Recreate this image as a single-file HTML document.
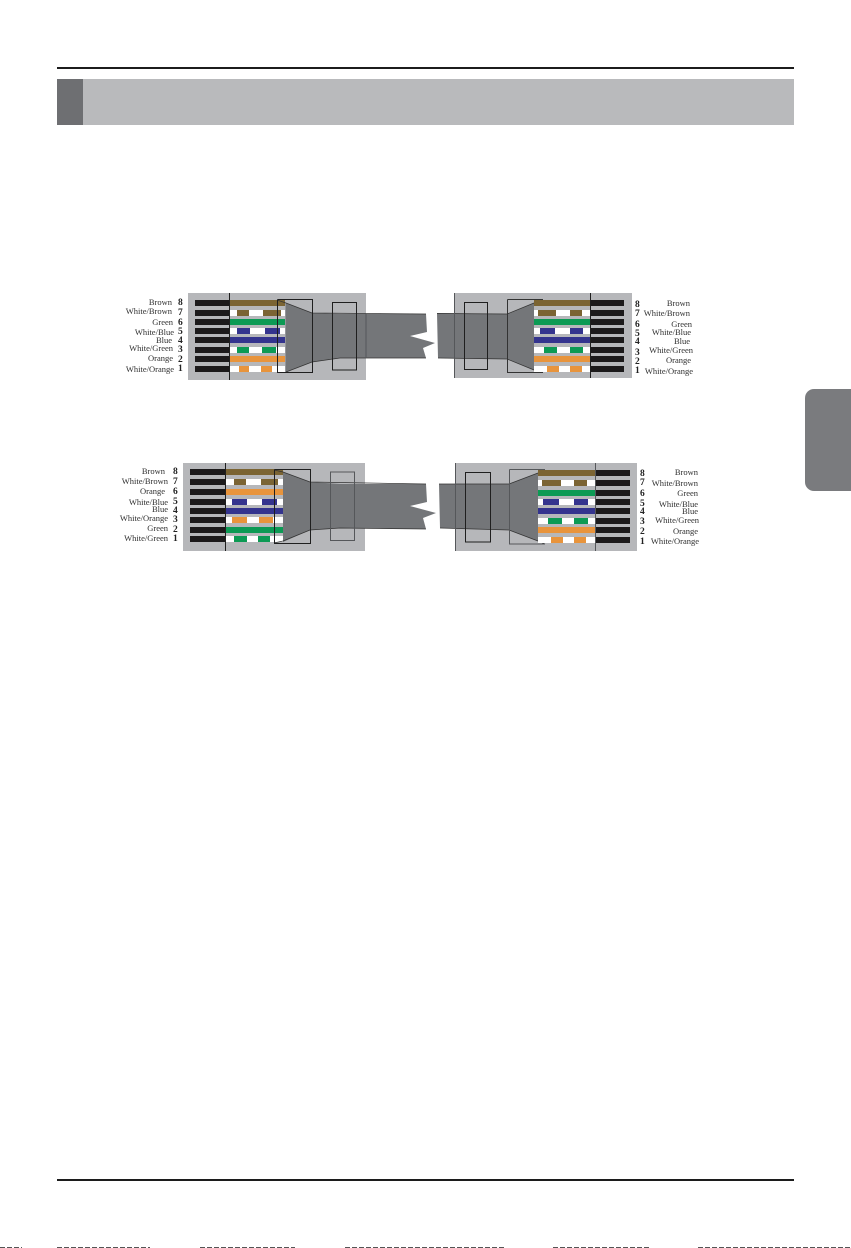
<!DOCTYPE html>
<html>
<head>
<meta charset="utf-8">
<style>
html,body{margin:0;padding:0;background:#fff;}
svg{display:block;}
text{font-family:"Liberation Serif",serif;font-size:8.5px;fill:#2e2e2e;text-anchor:end;dominant-baseline:central;}
.n{font-size:9.5px;font-weight:bold;text-anchor:start;fill:#222;}
.pin{fill:#1c1a1b;}
.w{fill:#fff;}.br{fill:#7b6433;}.gr{fill:#0c9a54;}.bl{fill:#34348e;}.or{fill:#e8943c;}
.conn{fill:#b6b7ba;}
.cable{fill:#747679;}
.ln{fill:none;stroke:#1f1f1f;stroke-width:1;}
.lg{fill:none;stroke:#55575a;stroke-width:1;}
</style>
</head>
<body>
<svg width="851" height="1248" viewBox="0 0 851 1248" xmlns="http://www.w3.org/2000/svg">
<rect width="851" height="1248" fill="#fff"/>
<!-- header -->
<rect x="57" y="67" width="737" height="2" fill="#1c1c1c"/>
<rect x="57" y="79" width="737" height="46" fill="#b9babc"/>
<rect x="57" y="79" width="26" height="46" fill="#6e6f72"/>
<!-- side tab -->
<path d="M851 389H814a9 9 0 0 0-9 9V482a9 9 0 0 0 9 9H851Z" fill="#7a7b7e"/>
<!-- footer -->
<rect x="57" y="1179" width="737" height="2" fill="#1c1c1c"/>
<path d="M0 1247.5H22M57 1247.5H150M200 1247.5H295M345 1247.5H505M553 1247.5H650M698 1247.5H851" stroke="#555" stroke-width="1" stroke-dasharray="5 2"/>

<!-- TOP LEFT -->
<rect class="conn" x="188" y="293" width="178" height="87"/>
<g class="pin">
<rect x="195" y="300" width="35" height="6"/><rect x="195" y="310" width="35" height="6"/><rect x="195" y="319" width="35" height="6"/><rect x="195" y="328" width="35" height="6"/><rect x="195" y="337" width="35" height="6"/><rect x="195" y="347" width="35" height="6"/><rect x="195" y="356" width="35" height="6"/><rect x="195" y="366" width="35" height="6"/>
</g>
<rect class="br" x="230" y="300" width="55" height="6"/>
<rect class="w" x="230" y="310" width="55" height="6"/><rect class="br" x="237" y="310" width="12" height="6"/><rect class="br" x="263" y="310" width="18" height="6"/>
<rect class="gr" x="230" y="319" width="55" height="6"/>
<rect class="w" x="230" y="328" width="55" height="6"/><rect class="bl" x="237" y="328" width="13" height="6"/><rect class="bl" x="265" y="328" width="15" height="6"/>
<rect class="bl" x="230" y="337" width="55" height="6"/>
<rect class="w" x="230" y="347" width="55" height="6"/><rect class="gr" x="237" y="347" width="12" height="6"/><rect class="gr" x="262" y="347" width="14" height="6"/>
<rect class="or" x="230" y="356" width="55" height="6"/>
<rect class="w" x="230" y="366" width="55" height="6"/><rect class="or" x="239" y="366" width="10" height="6"/><rect class="or" x="261" y="366" width="11" height="6"/>
<path class="cable" d="M285.5 303L312 313L340 314L426 314L427 332L410 336L435 343L423 348L426 358L340 358L312 362L285.5 372Z"/>
<path d="M277 300L286 303L312 313L426 314M426 358L340 358L312 362L286 372" fill="none" stroke="#333" stroke-width=".7"/>
<path class="ln" d="M229.5 293V380M277.5 299.5V372.5H312.5V299.5H277.5M332.5 302.5H356.5V370H332.5Z"/>
<path d="M366 314V358" stroke="#55575a" stroke-width="1"/>
<text x="172" y="302">Brown</text><text x="172" y="311">White/Brown</text><text x="173" y="322">Green</text><text x="174" y="332">White/Blue</text><text x="172" y="340">Blue</text><text x="173" y="348">White/Green</text><text x="173" y="358">Orange</text><text x="174" y="369">White/Orange</text>
<text class="n" x="178" y="303">8</text><text class="n" x="178" y="313">7</text><text class="n" x="178" y="323">6</text><text class="n" x="178" y="332">5</text><text class="n" x="178" y="341">4</text><text class="n" x="178" y="350">3</text><text class="n" x="178" y="360">2</text><text class="n" x="178" y="369">1</text>

<!-- TOP RIGHT -->
<rect class="conn" x="454" y="293" width="178" height="85"/>
<g class="pin">
<rect x="591" y="300" width="33" height="6"/><rect x="591" y="310" width="33" height="6"/><rect x="591" y="319" width="33" height="6"/><rect x="591" y="328" width="33" height="6"/><rect x="591" y="337" width="33" height="6"/><rect x="591" y="347" width="33" height="6"/><rect x="591" y="356" width="33" height="6"/><rect x="591" y="366" width="33" height="6"/>
</g>
<path class="cable" d="M437 313L507 314L534 303V370L507 359L438 358Z"/>
<path d="M437 313.5L507 314L534 303L543 300M543 372L534 370L507 359L438 358" fill="none" stroke="#333" stroke-width=".7"/>
<rect class="br" x="534" y="300" width="57" height="6"/>
<rect class="w" x="534" y="310" width="57" height="6"/><rect class="br" x="538" y="310" width="18" height="6"/><rect class="br" x="570" y="310" width="12" height="6"/>
<rect class="gr" x="534" y="319" width="57" height="6"/>
<rect class="w" x="534" y="328" width="57" height="6"/><rect class="bl" x="540" y="328" width="15" height="6"/><rect class="bl" x="570" y="328" width="13" height="6"/>
<rect class="bl" x="534" y="337" width="57" height="6"/>
<rect class="w" x="534" y="347" width="57" height="6"/><rect class="gr" x="544" y="347" width="13" height="6"/><rect class="gr" x="570" y="347" width="13" height="6"/>
<rect class="or" x="534" y="356" width="57" height="6"/>
<rect class="w" x="534" y="366" width="57" height="6"/><rect class="or" x="547" y="366" width="12" height="6"/><rect class="or" x="570" y="366" width="12" height="6"/>
<path class="ln" d="M590.5 293V378M464.5 302.5H487.5V369.5H464.5Z"/>
<path d="M507.5 299.5H543M507.5 299.5V372.5H543" fill="none" stroke="#333" stroke-width="1"/>
<path d="M454.5 293V378" stroke="#55575a" stroke-width="1"/>
<text x="690" y="303">Brown</text><text x="690" y="313">White/Brown</text><text x="692" y="324">Green</text><text x="691" y="332">White/Blue</text><text x="690" y="341">Blue</text><text x="693" y="350">White/Green</text><text x="691" y="360">Orange</text><text x="693" y="371">White/Orange</text>
<text class="n" x="635" y="305">8</text><text class="n" x="635" y="314">7</text><text class="n" x="635" y="325">6</text><text class="n" x="635" y="334">5</text><text class="n" x="635" y="342">4</text><text class="n" x="635" y="353">3</text><text class="n" x="635" y="362">2</text><text class="n" x="635" y="371">1</text>

<!-- BOTTOM LEFT -->
<rect class="conn" x="183" y="463" width="182" height="88"/>
<g class="pin">
<rect x="190" y="469" width="35" height="6"/><rect x="190" y="479" width="35" height="6"/><rect x="190" y="489" width="35" height="6"/><rect x="190" y="499" width="35" height="6"/><rect x="190" y="508" width="35" height="6"/><rect x="190" y="517" width="35" height="6"/><rect x="190" y="527" width="35" height="6"/><rect x="190" y="536" width="35" height="6"/>
</g>
<rect class="br" x="225" y="469" width="58" height="6"/>
<rect class="w" x="225" y="479" width="58" height="6"/><rect class="br" x="234" y="479" width="12" height="6"/><rect class="br" x="261" y="479" width="17" height="6"/>
<rect class="or" x="225" y="489" width="58" height="6"/>
<rect class="w" x="225" y="499" width="58" height="6"/><rect class="bl" x="232" y="499" width="15" height="6"/><rect class="bl" x="262" y="499" width="15" height="6"/>
<rect class="bl" x="225" y="508" width="58" height="6"/>
<rect class="w" x="225" y="517" width="58" height="6"/><rect class="or" x="232" y="517" width="15" height="6"/><rect class="or" x="259" y="517" width="14" height="6"/>
<rect class="gr" x="225" y="527" width="58" height="6"/>
<rect class="w" x="225" y="536" width="58" height="6"/><rect class="gr" x="234" y="536" width="13" height="6"/><rect class="gr" x="258" y="536" width="12" height="6"/>
<path class="cable" d="M283 472L310 482L340 484L426 484L427 502L410 506L436 513L423 518L426 529L340 528L310 530L283 542Z"/>
<path d="M274 470L283 472L310 482L426 484M426 529L340 528L310 530L283 541L274 543" fill="none" stroke="#333" stroke-width=".7"/>
<path class="ln" d="M225.5 463V551M274.5 469.5V543.5H310.5V469.5H274.5"/>
<path class="lg" d="M330.5 472H354.5V540.5H330.5Z"/>
<text x="165" y="471">Brown</text><text x="168" y="481">White/Brown</text><text x="165" y="491">Orange</text><text x="168" y="502">White/Blue</text><text x="168" y="509">Blue</text><text x="168" y="518">White/Orange</text><text x="168" y="528">Green</text><text x="168" y="538">White/Green</text>
<text class="n" x="173" y="472">8</text><text class="n" x="173" y="482">7</text><text class="n" x="173" y="492">6</text><text class="n" x="173" y="502">5</text><text class="n" x="173" y="511">4</text><text class="n" x="173" y="520">3</text><text class="n" x="173" y="530">2</text><text class="n" x="173" y="539">1</text>

<!-- BOTTOM RIGHT -->
<rect class="conn" x="455" y="463" width="182" height="88"/>
<g class="pin">
<rect x="595" y="470" width="35" height="6"/><rect x="595" y="480" width="35" height="6"/><rect x="595" y="490" width="35" height="6"/><rect x="595" y="499" width="35" height="6"/><rect x="595" y="508" width="35" height="6"/><rect x="595" y="518" width="35" height="6"/><rect x="595" y="527" width="35" height="6"/><rect x="595" y="537" width="35" height="6"/>
</g>
<path class="cable" d="M439 484L509 484L538 473V541L509 530L440 528Z"/>
<path d="M439 484L509 484L538 473L545 470M545 544L538 541L509 530L440 528" fill="none" stroke="#333" stroke-width=".7"/>
<rect class="br" x="538" y="470" width="57" height="6"/>
<rect class="w" x="538" y="480" width="57" height="6"/><rect class="br" x="542" y="480" width="19" height="6"/><rect class="br" x="574" y="480" width="13" height="6"/>
<rect class="gr" x="538" y="490" width="57" height="6"/>
<rect class="w" x="538" y="499" width="57" height="6"/><rect class="bl" x="543" y="499" width="16" height="6"/><rect class="bl" x="574" y="499" width="14" height="6"/>
<rect class="bl" x="538" y="508" width="57" height="6"/>
<rect class="w" x="538" y="518" width="57" height="6"/><rect class="gr" x="548" y="518" width="14" height="6"/><rect class="gr" x="574" y="518" width="14" height="6"/>
<rect class="or" x="538" y="527" width="57" height="6"/>
<rect class="w" x="538" y="537" width="57" height="6"/><rect class="or" x="551" y="537" width="12" height="6"/><rect class="or" x="574" y="537" width="12" height="6"/>
<path class="ln" d="M465.5 472.5H490.5V542H465.5Z"/>
<path class="lg" d="M595.5 463V551M509.5 469.5H545M509.5 469.5V544H545"/>
<path d="M455.5 463V551" stroke="#55575a" stroke-width="1"/>
<text x="698" y="472">Brown</text><text x="698" y="483">White/Brown</text><text x="698" y="493">Green</text><text x="698" y="504">White/Blue</text><text x="698" y="511">Blue</text><text x="699" y="520">White/Green</text><text x="698" y="531">Orange</text><text x="699" y="541">White/Orange</text>
<text class="n" x="640" y="474">8</text><text class="n" x="640" y="483">7</text><text class="n" x="640" y="494">6</text><text class="n" x="640" y="504">5</text><text class="n" x="640" y="512">4</text><text class="n" x="640" y="522">3</text><text class="n" x="640" y="532">2</text><text class="n" x="640" y="542">1</text>
</svg>
</body>
</html>
